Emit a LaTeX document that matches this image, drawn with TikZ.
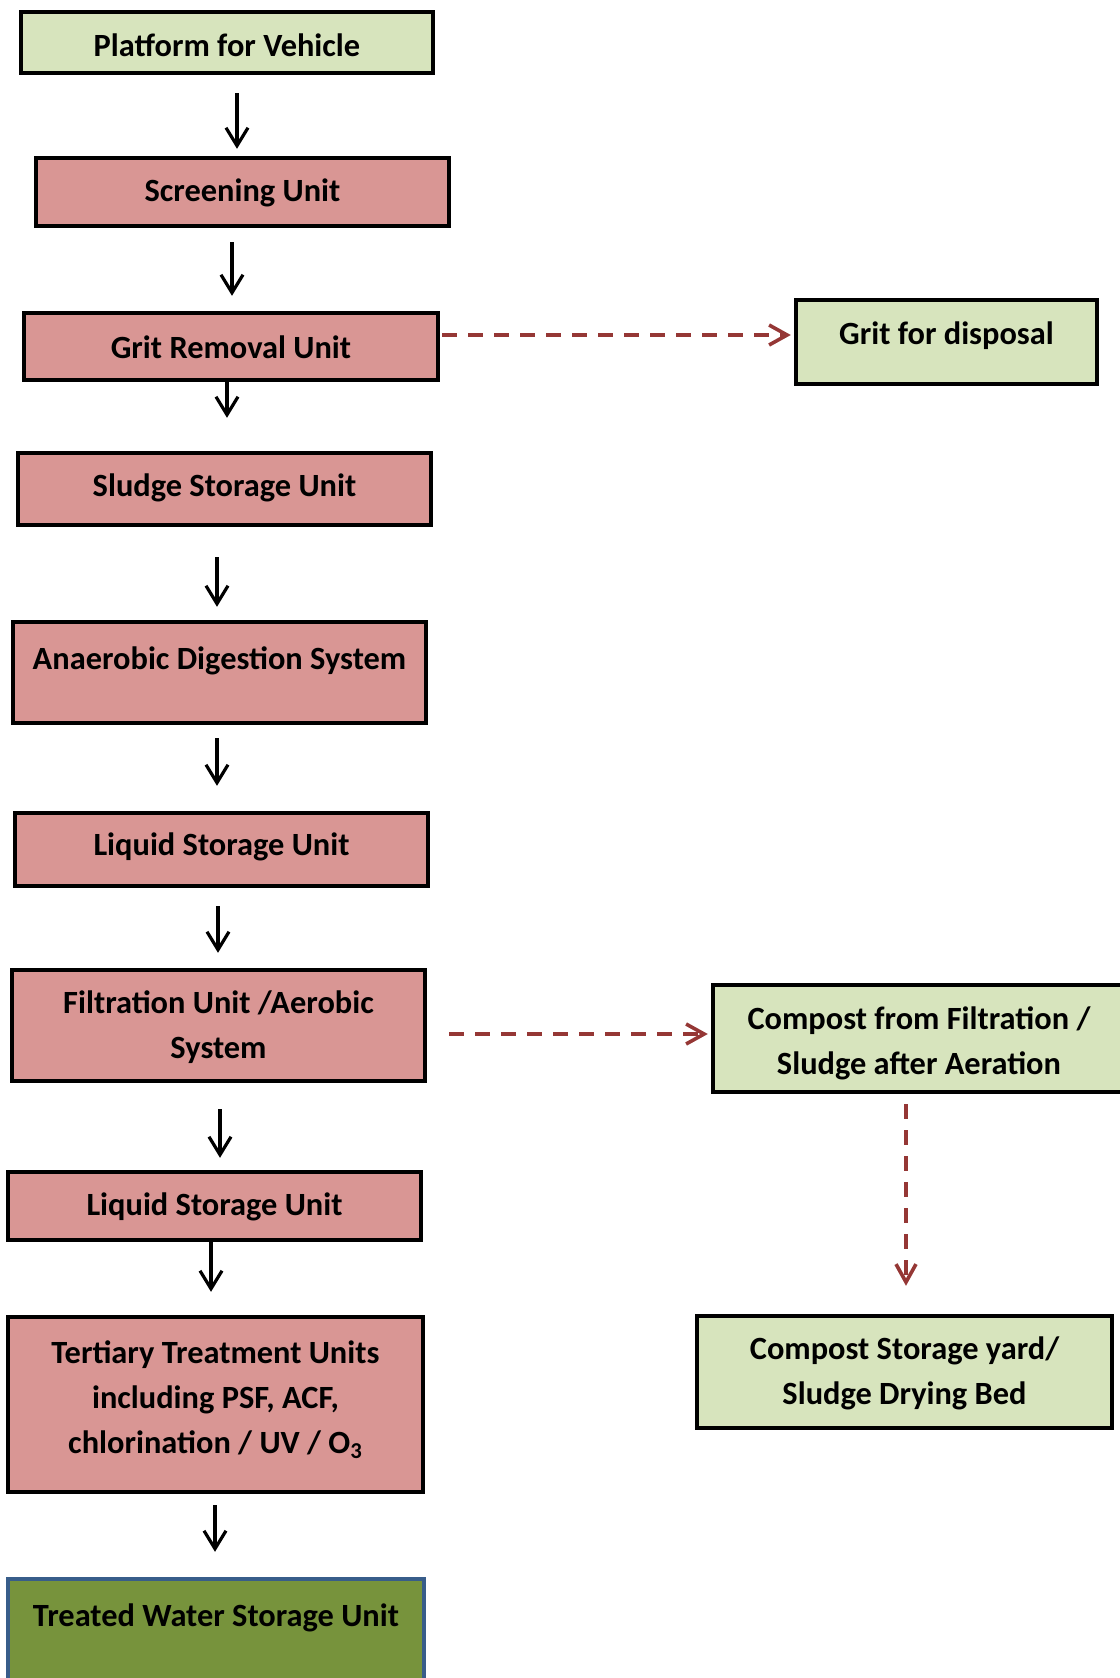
\documentclass[tikz,border=0pt]{standalone}
\usepackage{fontspec}
\setmainfont{Carlito}
\usetikzlibrary{arrows.meta,calc}
\definecolor{pinkfill}{HTML}{D99694}
\definecolor{greenfill}{HTML}{D7E4BD}
\definecolor{olivefill}{HTML}{77933C}
\definecolor{blueedge}{HTML}{385D8A}
\definecolor{darkred}{HTML}{953735}
\tikzset{
  box/.style={draw=black, line width=2.2pt, rectangle, inner sep=0pt},
  pinkbox/.style={box, fill=pinkfill},
  greenbox/.style={box, fill=greenfill},
  txt/.style={inner sep=0pt, align=center, font=\fontsize{16.2pt}{22.5pt}\selectfont\bfseries},
  arr/.style={draw=black, line width=1.6pt, -{Straight Barb[length=9pt,width=11pt,line width=1.6pt]}},
  darr/.style={draw=darkred, line width=1.8pt, dash pattern=on 7.5pt off 5.5pt, -{Straight Barb[length=9pt,width=10pt,line width=1.8pt]}}
}
\begin{document}
\begin{tikzpicture}[x=0.5pt,y=-0.5pt]
\useasboundingbox (0,0) rectangle (1120,1678);
% left column boxes
\node[greenbox, minimum width=206pt, minimum height=30.5pt] (plat) at (227,42.5) {};
\node[pinkbox, minimum width=206.5pt, minimum height=34pt] (scr) at (242.5,192) {};
\node[pinkbox, minimum width=207pt, minimum height=33.5pt] (grit) at (231,346.5) {};
\node[pinkbox, minimum width=206.5pt, minimum height=36pt] (sludge) at (224.5,489) {};
\node[pinkbox, minimum width=206.5pt, minimum height=50.5pt] (anaer) at (219.5,672.5) {};
\node[pinkbox, minimum width=206.5pt, minimum height=36.5pt] (liqa) at (221.5,849.5) {};
\node[pinkbox, minimum width=206.5pt, minimum height=55.5pt] (filt) at (218.5,1025.5) {};
\node[pinkbox, minimum width=206.5pt, minimum height=34pt] (liqb) at (214.5,1206) {};
\node[pinkbox, minimum width=207.5pt, minimum height=87.5pt] (tert) at (215.5,1404.5) {};
\node[box, draw=blueedge, fill=olivefill, minimum width=208pt, minimum height=69.5pt] (treat) at (216,1648.5) {};
% right column boxes
\node[greenbox, minimum width=150.5pt, minimum height=42pt] (gdisp) at (946.5,342) {};
\node[greenbox, minimum width=206pt, minimum height=53.5pt] (compa) at (919,1038.5) {};
\node[greenbox, minimum width=207.5pt, minimum height=56pt] (compb) at (904.5,1372) {};
% texts
\node[txt] (plat-t) at (227,45) {Platform for Vehicle};
\node[txt] (scr-t) at (242.5,193) {Screening Unit};
\node[txt] (grit-t) at (231,347) {Grit Removal Unit};
\node[txt] (sludge-t) at (224.5,488) {Sludge Storage Unit};
\node[txt] (anaer-t) at (219.5,661) {Anaerobic Digestion System};
\node[txt] (liqa-t) at (221.5,847) {Liquid Storage Unit};
\node[txt] (filt-t) at (218.5,1027) {Filtration Unit /Aerobic\\System};
\node[txt] (liqb-t) at (214.5,1207) {Liquid Storage Unit};
\node[txt] (tert-t) at (215.5,1400) {Tertiary Treatment Units\\including PSF, ACF,\\chlorination / UV / O\textsubscript{3}};
\node[txt] (treat-t) at (216,1618) {Treated Water Storage Unit};
\node[txt] (gdisp-t) at (946.5,336) {Grit for disposal};
\node[txt] (compa-t) at (919,1043) {Compost from Filtration /\\Sludge after Aeration};
\node[txt] (compb-t) at (904.5,1373) {Compost Storage yard/\\Sludge Drying Bed};
% black arrows
\draw[arr] ($(plat.south)+(10,18)$) -- ($(scr.north)+(-5.5,-7)$);
\draw[arr] ($(scr.south)+(-10.5,14)$) -- ($(grit.north)+(1,-15)$);
\draw[arr] ($(grit.south)+(-4,0)$) -- ($(sludge.north)+(2.5,-33)$);
\draw[arr] ($(sludge.south)+(-7.5,30)$) -- ($(anaer.north)+(-2.5,-13)$);
\draw[arr] ($(anaer.south)+(-2.5,13)$) -- ($(liqa.north)+(-4.5,-25)$);
\draw[arr] ($(liqa.south)+(-3.5,18)$) -- ($(filt.north)+(-0.5,-15)$);
\draw[arr] ($(filt.south)+(1.5,26)$) -- ($(liqb.north)+(5.5,-12)$);
\draw[arr] ($(liqb.south)+(-3.5,0)$) -- ($(tert.north)+(-4.5,-23)$);
\draw[arr] ($(tert.south)+(-0.5,11)$) -- ($(treat.north)+(-1,-25)$);
% dashed red arrows
\draw[darr] ($(grit.east)+(2,-11.5)$) -- ($(gdisp.west)+(-3,-7)$);
\draw[darr] ($(filt.east)+(22,8.5)$) -- ($(compa.west)+(-3,-4.5)$);
\draw[darr] ($(compa.south)+(-13,10)$) -- ($(compb.north)+(1.5,-28)$);
\end{tikzpicture}
\end{document}
